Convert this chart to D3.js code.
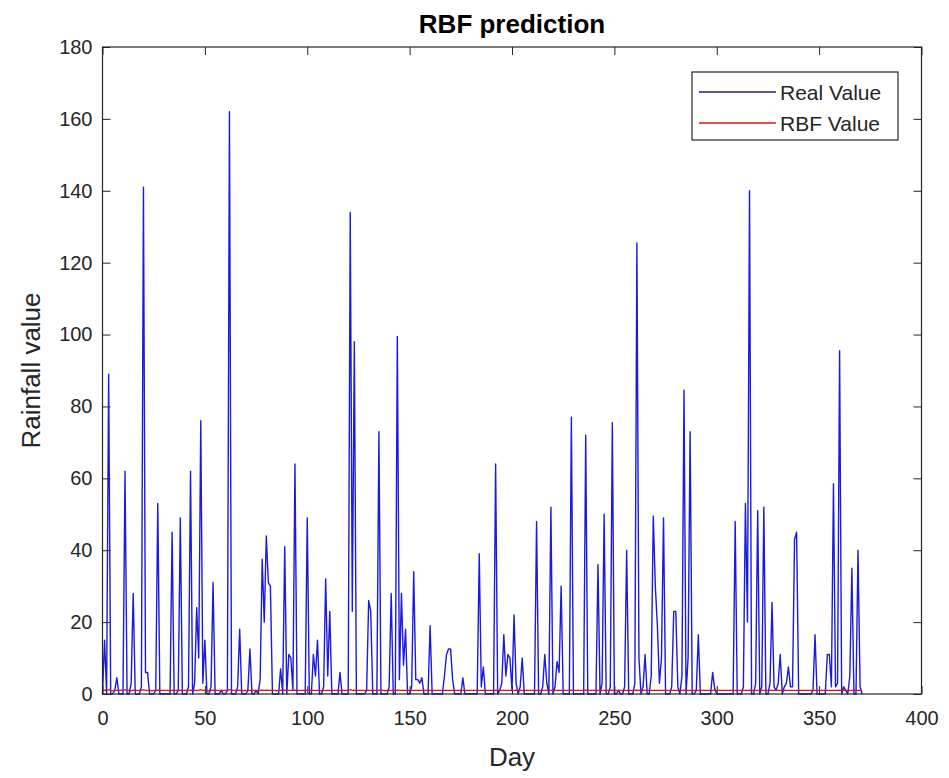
<!DOCTYPE html>
<html>
<head>
<meta charset="utf-8">
<script src="https://cdn.jsdelivr.net/npm/d3@7"></script>
<style>
  body { margin: 0; background: #fff; }
  svg { display: block; }
  text { font-family: "Liberation Sans", Arial, sans-serif; fill: #262626; }
</style>
</head>
<body>
<svg id="chart"></svg>
<script>
// daily rainfall, day 0..371
const realValue = [
  0, 15, 0, 89, 0, 0, 1, 4.5, 0, 0, 0, 62, 0, 0, 3, 28, 0, 0, 0, 2,
  141, 6, 6, 0, 0, 0, 1, 53, 0, 0, 0, 0, 0, 0, 45, 0, 0, 1, 49, 0,
  0, 0, 2, 62, 0, 3, 24, 10, 76, 3, 15, 0, 0, 2, 31, 0, 0, 0, 1, 0,
  0, 1, 162, 0, 0, 0, 2, 18, 0, 0, 0, 1, 12.5, 0, 0, 1, 0, 4, 37.5, 20,
  44, 31, 30, 0, 0, 0, 0, 7, 0, 41, 0, 11, 10, 1, 64, 0, 0, 0, 0, 0,
  49, 0, 0, 11, 5, 15, 0, 0, 2, 32, 5, 23, 0, 0, 0, 0, 6, 0, 0, 0,
  0, 134, 23, 98, 0, 0, 0, 0, 0, 1, 26, 23, 0, 0, 0, 73, 0, 0, 0, 0,
  2, 28, 0, 0, 99.5, 4, 28, 8, 18, 0, 0, 2, 34, 4, 4, 3, 4.5, 0, 0, 0,
  19, 0, 0, 0, 0, 0, 0, 5, 11, 12.5, 12.5, 4, 0, 0, 0, 0, 4.5, 0, 0, 0,
  0, 0, 0, 0, 39, 2, 7.5, 0, 0, 0, 0, 0, 64, 0, 1, 3, 16.5, 5, 11, 10,
  1, 22, 3, 0, 2, 10, 0, 0, 0, 0, 0, 0, 48, 0, 0, 2, 11, 3, 0, 52,
  0, 2, 9, 6, 30, 0, 0, 0, 0, 77, 0, 0, 0, 0, 0, 0, 72, 0, 0, 0,
  0, 0, 36, 0, 3, 50, 0, 0, 2, 75.5, 0, 0, 1, 0, 0, 2, 40, 0, 0, 0,
  3, 125.5, 10, 0, 2, 11, 0, 0, 5, 49.5, 30, 19, 3, 10, 49, 0, 0, 0, 2, 23,
  23, 2, 0, 5, 84.5, 0, 10, 73, 0, 0, 1, 16.5, 0, 0, 0, 0, 0, 0, 6, 1.5,
  0, 0, 0, 0, 0, 0, 0, 0, 0, 48, 0, 0, 0, 2, 53, 20, 140, 0, 0, 3,
  51, 0, 2, 52, 0, 0, 3, 25.5, 2, 1, 3, 11, 0, 2, 3, 7.5, 2, 2, 43, 45,
  0, 0, 0, 0, 0, 0, 0, 1, 16.5, 0, 0, 0, 0, 0, 11, 11, 2, 58.5, 2, 3,
  95.5, 0, 2, 1, 0, 5, 35, 0, 0, 40, 2, 0
];

// RBF output, almost flat near zero
const rbfValue = [
  1.0, 1.1, 1.0, 1.2, 1.0, 0.9, 1.0, 1.0, 1.1, 1.0, 1.0, 1.2, 1.0, 1.0, 0.9, 1.1, 1.0, 1.0, 1.0, 1.0,
  1.2, 1.0, 1.0, 1.0, 0.9, 1.0, 1.0, 1.1, 1.0, 1.0, 1.0, 1.0, 1.0, 0.9, 1.1, 1.0, 1.0, 1.0, 1.1, 1.0,
  1.0, 1.0, 1.0, 1.1, 1.0, 1.0, 1.0, 1.0, 1.2, 1.0, 1.0, 1.0, 0.9, 1.0, 1.1, 1.0, 1.0, 1.0, 1.0, 1.0,
  1.0, 1.0, 1.2, 1.0, 1.0, 1.0, 1.0, 1.1, 1.0, 0.9, 1.0, 1.0, 1.0, 1.0, 1.0, 1.0, 1.0, 1.0, 1.1, 1.0,
  1.1, 1.0, 1.0, 1.0, 1.0, 0.9, 1.0, 1.0, 1.0, 1.1, 1.0, 1.0, 1.0, 1.0, 1.1, 1.0, 1.0, 1.0, 1.0, 1.0,
  1.1, 1.0, 1.0, 1.0, 1.0, 1.0, 1.0, 0.9, 1.0, 1.0, 1.0, 1.0, 1.0, 1.0, 1.0, 1.0, 1.0, 1.0, 1.0, 1.0,
  1.0, 1.2, 1.0, 1.1, 1.0, 1.0, 1.0, 1.0, 1.0, 1.0, 1.0, 1.0, 1.0, 1.0, 1.0, 1.1, 1.0, 1.0, 0.9, 1.0,
  1.0, 1.0, 1.0, 1.0, 1.1, 1.0, 1.0, 1.0, 1.0, 1.0, 1.0, 1.0, 1.0, 1.0, 1.0, 1.0, 1.0, 1.0, 1.0, 1.0,
  1.0, 1.0, 1.0, 1.0, 1.0, 1.0, 1.0, 1.0, 1.0, 1.0, 1.0, 1.0, 1.0, 1.0, 1.0, 1.0, 1.0, 1.0, 1.0, 1.0,
  1.0, 1.0, 1.0, 1.0, 1.0, 1.0, 1.0, 1.0, 1.0, 1.0, 1.0, 1.0, 1.1, 1.0, 1.0, 1.0, 1.0, 1.0, 1.0, 1.0,
  1.0, 1.0, 1.0, 1.0, 1.0, 1.0, 1.0, 1.0, 1.0, 1.0, 1.0, 1.0, 1.0, 1.0, 1.0, 1.0, 1.0, 1.0, 1.0, 1.0,
  1.0, 1.0, 1.0, 1.0, 1.0, 1.0, 1.0, 1.0, 1.0, 1.1, 1.0, 1.0, 1.0, 1.0, 1.0, 1.0, 1.1, 1.0, 1.0, 1.0,
  1.0, 1.0, 1.0, 1.0, 1.0, 1.0, 1.0, 1.0, 1.0, 1.1, 1.0, 1.0, 1.0, 1.0, 1.0, 1.0, 1.0, 1.0, 1.0, 1.0,
  1.0, 1.1, 1.0, 1.0, 1.0, 1.0, 1.0, 1.0, 1.0, 1.0, 1.0, 1.0, 1.0, 1.0, 1.0, 1.0, 1.0, 1.0, 1.0, 1.0,
  1.0, 1.0, 1.0, 1.0, 1.1, 1.0, 1.0, 1.0, 1.0, 1.0, 1.0, 1.0, 1.0, 1.0, 1.0, 1.0, 1.0, 1.0, 1.0, 1.0,
  1.0, 1.0, 1.0, 1.0, 1.0, 1.0, 1.0, 1.0, 1.0, 1.0, 1.0, 1.0, 1.0, 1.0, 1.0, 1.0, 1.1, 1.0, 1.0, 1.0,
  1.0, 1.0, 1.0, 1.0, 1.0, 1.0, 1.0, 1.0, 1.0, 1.0, 1.0, 1.0, 1.0, 1.0, 1.0, 1.0, 1.0, 1.0, 1.0, 1.0,
  1.0, 1.0, 1.0, 1.0, 1.0, 1.0, 1.0, 1.0, 1.0, 1.0, 1.0, 1.0, 1.0, 1.0, 1.0, 1.0, 1.0, 1.0, 1.0, 1.0,
  1.1, 1.0, 1.0, 1.0, 1.0, 1.0, 1.0, 1.0, 1.0, 1.0, 1.0, 1.0
];

const xTicks = [0, 50, 100, 150, 200, 250, 300, 350, 400];
const yTicks = [0, 20, 40, 60, 80, 100, 120, 140, 160, 180];
const seriesNames = ["Real Value", "RBF Value"];
const seriesColors = ["#1a1ae0", "#d81414"];

const width = 949, height = 778;
const plotLeft = 102.5, plotRight = 921.5, plotTop = 47, plotBottom = 694;

const svg = d3.select("#chart")
    .attr("width", width)
    .attr("height", height);

const xScale = d3.scaleLinear().domain([0, 400]).range([plotLeft, plotRight]);
const yScale = d3.scaleLinear().domain([0, 180]).range([plotBottom, plotTop]);

// axes, matlab style ticks pointing inward
svg.append("g")
    .attr("class", "axis")
    .attr("transform", `translate(0,${plotBottom})`)
    .call(d3.axisBottom(xScale).tickValues(xTicks).tickSize(-8).tickPadding(17).tickSizeOuter(0));

svg.append("g")
    .attr("class", "axis")
    .attr("transform", `translate(0,${plotTop})`)
    .call(d3.axisTop(xScale).tickValues(xTicks).tickSize(-8).tickFormat("").tickSizeOuter(0));

svg.append("g")
    .attr("class", "axis")
    .attr("transform", `translate(${plotLeft},0)`)
    .call(d3.axisLeft(yScale).tickValues(yTicks).tickSize(-8).tickPadding(10).tickSizeOuter(0));

svg.append("g")
    .attr("class", "axis")
    .attr("transform", `translate(${plotRight},0)`)
    .call(d3.axisRight(yScale).tickValues(yTicks).tickSize(-8).tickFormat("").tickSizeOuter(0));

svg.selectAll(".axis .domain").remove();
svg.selectAll(".axis .tick line").attr("stroke", "#262626").attr("stroke-width", 1);
svg.selectAll(".axis text")
    .style("font-size", "20px")
    .style("fill", "#262626")
    .style("font-family", "'Liberation Sans', Arial, sans-serif");

// series lines
const line = d3.line()
    .x((d, i) => xScale(i))
    .y(d => yScale(d));

svg.append("path")
    .datum(realValue)
    .attr("fill", "none")
    .attr("stroke", seriesColors[0])
    .attr("stroke-width", 1.4)
    .attr("stroke-linejoin", "round")
    .attr("d", line);

svg.append("path")
    .datum(rbfValue)
    .attr("fill", "none")
    .attr("stroke", seriesColors[1])
    .attr("stroke-width", 1.3)
    .attr("d", line);

// plot box
svg.append("rect")
    .attr("x", plotLeft)
    .attr("y", plotTop)
    .attr("width", plotRight - plotLeft)
    .attr("height", plotBottom - plotTop)
    .attr("fill", "none")
    .attr("stroke", "#262626")
    .attr("stroke-width", 1.2);

// title and axis labels
svg.append("text")
    .attr("x", (plotLeft + plotRight) / 2)
    .attr("y", 33)
    .attr("text-anchor", "middle")
    .style("font-size", "26px")
    .style("font-weight", "bold")
    .style("fill", "#000")
    .text("RBF prediction");

svg.append("text")
    .attr("x", (plotLeft + plotRight) / 2)
    .attr("y", 766)
    .attr("text-anchor", "middle")
    .style("font-size", "26px")
    .text("Day");

svg.append("text")
    .attr("transform", `translate(40,${(plotTop + plotBottom) / 2}) rotate(-90)`)
    .attr("text-anchor", "middle")
    .style("font-size", "26px")
    .text("Rainfall value");

// legend
const legend = svg.append("g").attr("transform", "translate(692,72)");
legend.append("rect")
    .attr("width", 206)
    .attr("height", 68)
    .attr("fill", "#fff")
    .attr("stroke", "#262626")
    .attr("stroke-width", 1.2);

seriesNames.forEach((name, i) => {
    const yy = 20 + i * 31;
    legend.append("line")
        .attr("x1", 7).attr("x2", 84)
        .attr("y1", yy).attr("y2", yy)
        .attr("stroke", i === 0 ? "#1a1a8c" : seriesColors[1])
        .attr("stroke-width", 1.3);
    legend.append("text")
        .attr("x", 88)
        .attr("y", yy + 7.5)
        .style("font-size", "21px")
        .text(name);
});
</script>
</body>
</html>
